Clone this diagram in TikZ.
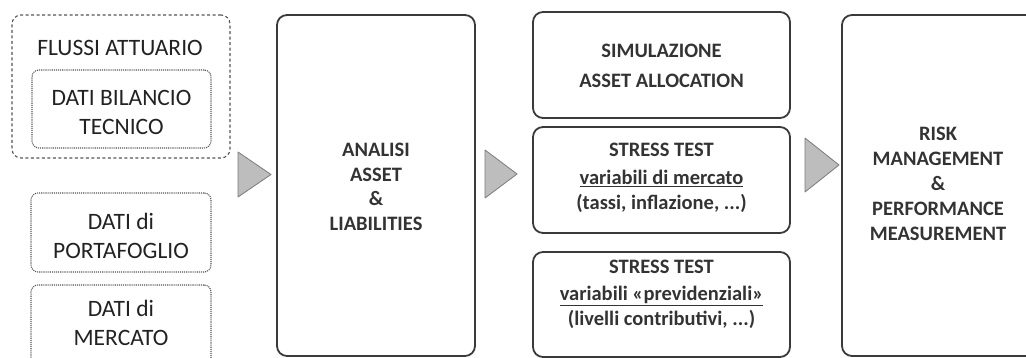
\documentclass[tikz,border=0pt]{standalone}
\usepackage{fontspec}
\setmainfont{Carlito}
\definecolor{boxline}{HTML}{3A3A3A}
\definecolor{dotline}{HTML}{555555}
\definecolor{arrowfill}{HTML}{BDBDBD}
\definecolor{arrowline}{HTML}{7A7A7A}
\definecolor{txtdark}{HTML}{222222}
\definecolor{txtbold}{HTML}{333333}
\tikzset{
  dotbox/.style={draw=dotline, densely dotted, line width=1.1pt, rounded corners=7pt, inner sep=0pt},
  dashbox/.style={draw=dotline, dash pattern=on 3pt off 2.5pt, line width=1.1pt, rounded corners=9pt, inner sep=0pt},
  solidbox/.style={draw=boxline, line width=1.8pt, rounded corners=10pt, inner sep=0pt},
  lefttxt/.style={align=center, text=txtdark, font=\fontsize{23.5}{29}\selectfont, inner sep=0pt},
  righttxt/.style={align=center, text=txtbold, font=\fontsize{20.5}{25}\selectfont\bfseries, inner sep=0pt},
  flowarrow/.style={fill=arrowfill, draw=arrowline, line width=0.8pt, line join=round}
}
\begin{document}
\begin{tikzpicture}[x=1pt,y=-1pt]
\useasboundingbox (0,0) rectangle (1026,358);
% left column
\node[dashbox, minimum width=218pt, minimum height=143pt] (flussi) at (121,86.5) {};
\node[lefttxt] (flussitxt) at (120,48) {FLUSSI ATTUARIO};
\node[dotbox, minimum width=179pt, minimum height=78pt] (bilancio) at (121.5,109) {};
\node[lefttxt] (bilanciotxt) at (121.5,112) {DATI BILANCIO\\TECNICO};
\node[dotbox, minimum width=180pt, minimum height=79pt] (portaf) at (121,232.5) {};
\node[lefttxt] (portaftxt) at (121,236) {DATI di\\PORTAFOGLIO};
\node[dotbox, minimum width=180pt, minimum height=80pt] (mercato) at (121,325) {};
\node[lefttxt] (mercatotxt) at (121,323) {DATI di\\MERCATO};
% analisi
\node[solidbox, minimum width=198pt, minimum height=341pt] (analisi) at (376,185.5) {};
\node[righttxt, font=\fontsize{20.5}{24.5}\selectfont\bfseries] (analisitxt) at (376,187) {ANALISI\\ASSET\\\&\\LIABILITIES};
% middle column
\node[solidbox, minimum width=257pt, minimum height=106pt] (simul) at (661.5,65) {};
\node[righttxt, font=\fontsize{20.5}{30}\selectfont\bfseries] (simultxt) at (661.5,66) {SIMULAZIONE\\ASSET ALLOCATION};
\node[solidbox, minimum width=257pt, minimum height=106pt] (stress1) at (661.5,180) {};
\node[righttxt] (stress1txt) at (661.5,178) {STRESS TEST\\[3pt]\underline{variabili di mercato}\\(tassi, inflazione, ...)};
\node[solidbox, minimum width=257pt, minimum height=105pt] (stress2) at (661.5,304.5) {};
\node[righttxt] (stress2txt) at (661.5,294) {STRESS TEST\\[2pt]\underline{variabili «previdenziali»}\\(livelli contributivi, ...)};
% right
\node[solidbox, minimum width=200pt, minimum height=341pt] (risk) at (942,185.5) {};
\node[righttxt] (risktxt) at (938,184) {RISK\\MANAGEMENT\\\&\\PERFORMANCE\\MEASUREMENT};
% arrows
\fill[flowarrow] (238,152) -- (238,197) -- (271,174.5) -- cycle;
\fill[flowarrow] (485,150) -- (485,198) -- (517,174) -- cycle;
\fill[flowarrow] (805,138) -- (805,192) -- (839,165) -- cycle;
\end{tikzpicture}
\end{document}
